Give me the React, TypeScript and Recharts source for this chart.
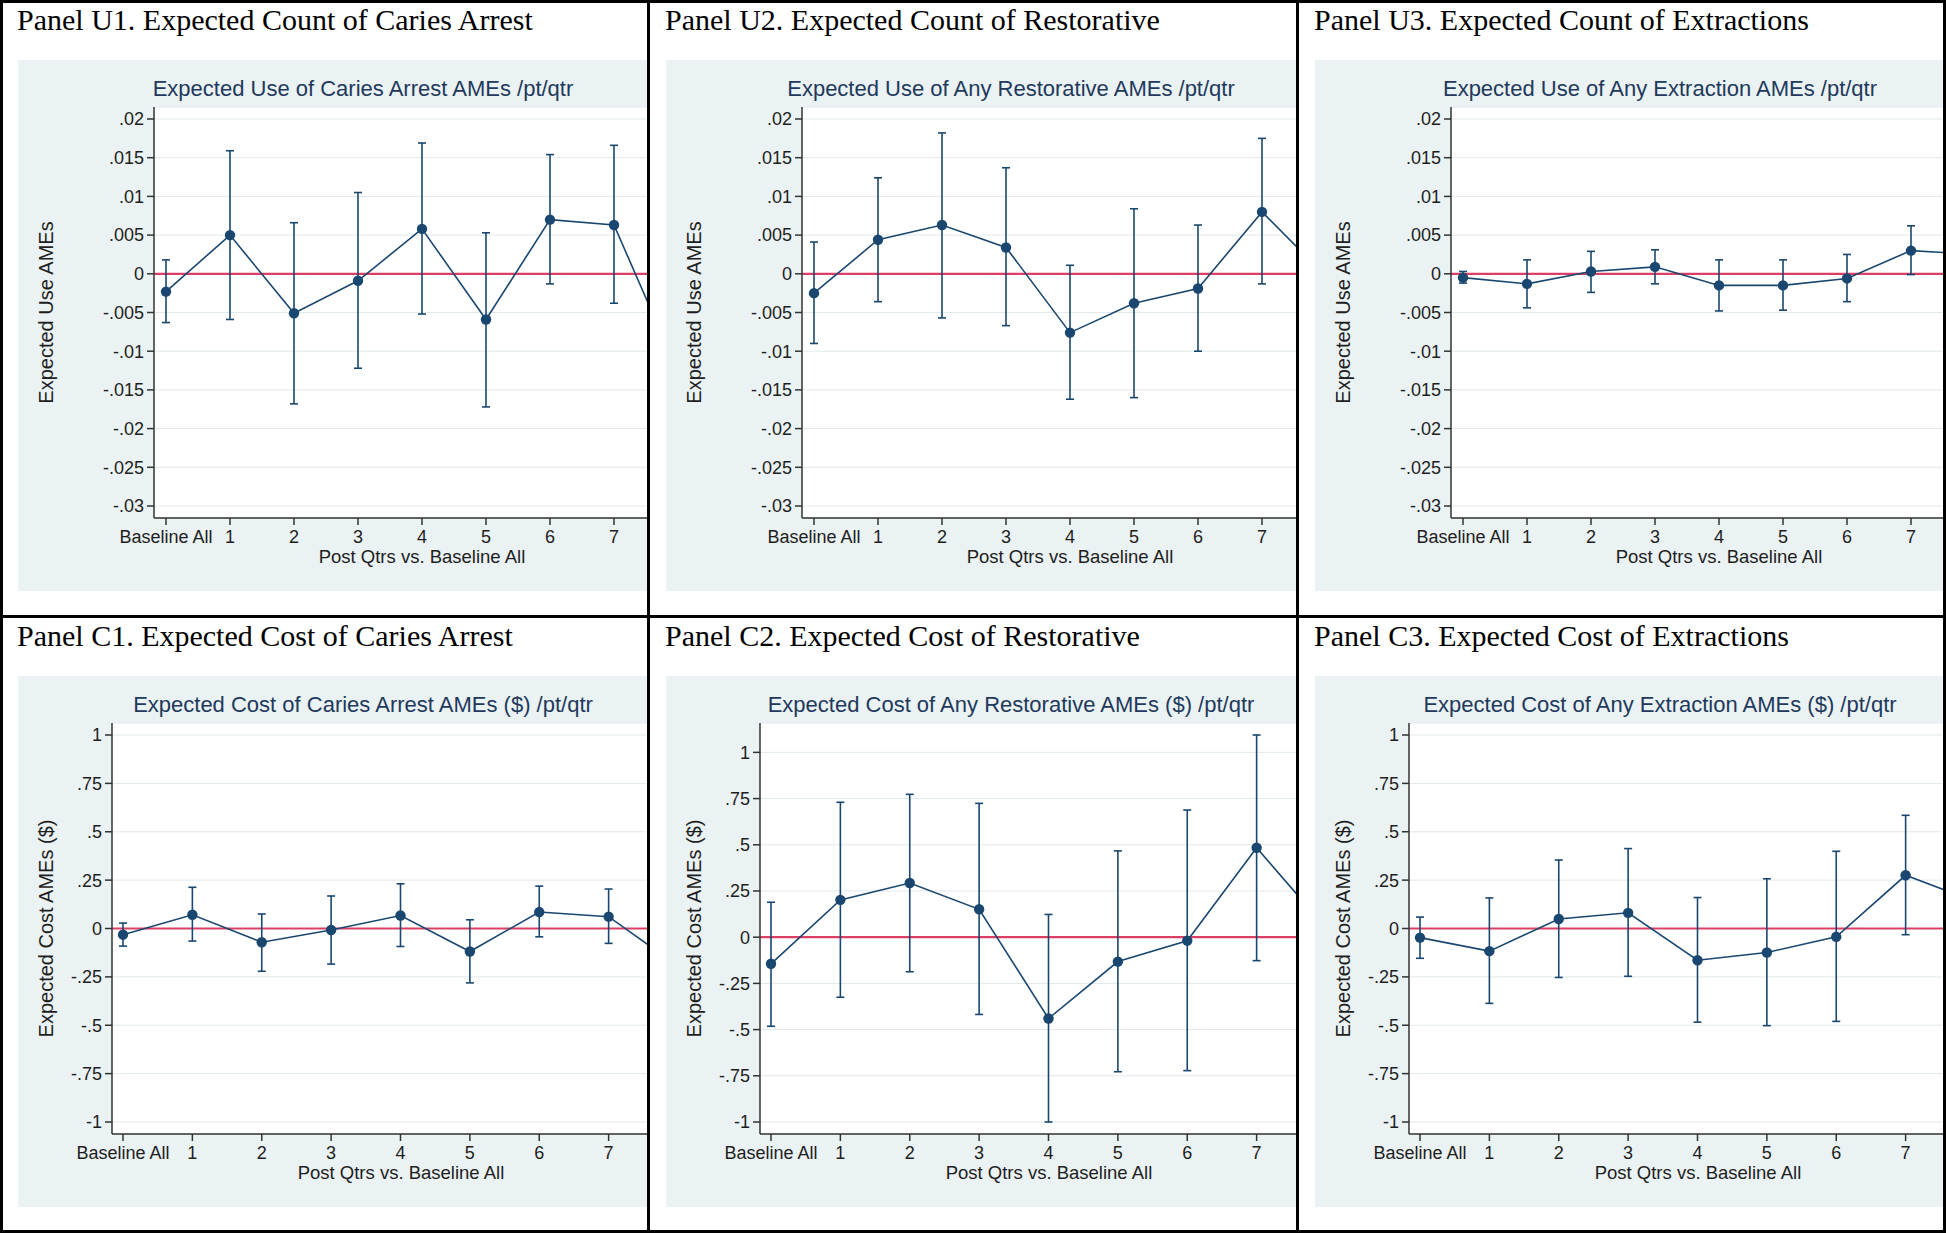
import { ComposedChart, Line, ErrorBar, XAxis, YAxis, CartesianGrid, ReferenceLine } from 'recharts';

// x categories: 0 = Baseline All, then post quarters 1..8 (8 sits past the cropped panel edge)
const X_POS = [0, 1, 2, 3, 4, 5, 6, 7, 8];
const X_TICKS = [0, 1, 2, 3, 4, 5, 6, 7];
const X_LABELS = ['Baseline All', '1', '2', '3', '4', '5', '6', '7'];

const USE_TICKS = [0.02, 0.015, 0.01, 0.005, 0, -0.005, -0.01, -0.015, -0.02, -0.025, -0.03];
const COST_TICKS = [1, 0.75, 0.5, 0.25, 0, -0.25, -0.5, -0.75, -1];

// expected use (count) AMEs
const U1_AME = [-0.0023, 0.005, -0.0051, -0.0009, 0.0058, -0.0059, 0.007, 0.0063, -0.0126];
const U1_LO = [-0.0063, -0.0059, -0.0168, -0.0122, -0.0052, -0.0172, -0.0013, -0.0038, null];
const U1_HI = [0.0018, 0.0159, 0.0066, 0.0105, 0.0169, 0.0053, 0.0154, 0.0166, null];

const U2_AME = [-0.0025, 0.0044, 0.0063, 0.0034, -0.0076, -0.0038, -0.0019, 0.008, -0.0003];
const U2_LO = [-0.009, -0.0036, -0.0057, -0.0067, -0.0162, -0.016, -0.01, -0.0013, null];
const U2_HI = [0.0041, 0.0124, 0.0182, 0.0137, 0.0011, 0.0084, 0.0063, 0.0175, null];

const U3_AME = [-0.0005, -0.0013, 0.0003, 0.0009, -0.0015, -0.0015, -0.0006, 0.003, 0.0025];
const U3_LO = [-0.0012, -0.0044, -0.0024, -0.0013, -0.0048, -0.0047, -0.0036, -0.0001, null];
const U3_HI = [0.0003, 0.0018, 0.0029, 0.0031, 0.0018, 0.0018, 0.0025, 0.0062, null];

// expected cost AMEs ($)
const C1_AME = [-0.032, 0.071, -0.071, -0.008, 0.067, -0.119, 0.085, 0.061, -0.195];
const C1_LO = [-0.091, -0.065, -0.221, -0.184, -0.093, -0.281, -0.043, -0.077, null];
const C1_HI = [0.028, 0.213, 0.075, 0.168, 0.231, 0.045, 0.219, 0.204, null];

const C2_AME = [-0.144, 0.202, 0.293, 0.151, -0.44, -0.132, -0.019, 0.484, 0.05];
const C2_LO = [-0.482, -0.325, -0.187, -0.418, -1.0, -0.728, -0.722, -0.127, null];
const C2_HI = [0.189, 0.73, 0.773, 0.724, 0.123, 0.467, 0.688, 1.094, null];

const C3_AME = [-0.047, -0.117, 0.049, 0.081, -0.164, -0.124, -0.043, 0.275, 0.14];
const C3_LO = [-0.154, -0.387, -0.253, -0.247, -0.484, -0.502, -0.48, -0.032, null];
const C3_HI = [0.059, 0.158, 0.354, 0.413, 0.16, 0.257, 0.399, 0.585, null];

const BG = '#eaf2f3';
const NAVY = '#1a476f';
const TITLE_NAVY = '#22395c';
const RED = '#dc3f65';
const GRID = '#e0e9ec';
const AXIS = '#333';
const SANS = '"Liberation Sans", Arial, Helvetica, sans-serif';
const SERIF = '"Liberation Serif", "Times New Roman", serif';

const GRAPH_W = 690;
const GRAPH_H = 531;
const PLOT_TOP = 47;
const PLOT_BOTTOM = 458;
const PLOT_RIGHT = 672;

const COL_LEFT = [0, 648, 1297];
const COL_WIDTH = [647, 648, 646];
const ROW_TOP = [0, 616];
const ROW_HEIGHT = [615, 614];

const fmtTick = (v: number) => (v === 0 ? '0' : String(v).replace(/^(-?)0\./, '$1.'));

const PANELS = [
  { title: 'Panel U1. Expected Count of Caries Arrest', sub: 'Expected Use of Caries Arrest AMEs /pt/qtr', yTitle: 'Expected Use AMEs', ame: U1_AME, lo: U1_LO, hi: U1_HI, ticks: USE_TICKS, domain: [-0.03, 0.02], plotLeft: 136, padLeft: 12 },
  { title: 'Panel U2. Expected Count of Restorative', sub: 'Expected Use of Any Restorative AMEs /pt/qtr', yTitle: 'Expected Use AMEs', ame: U2_AME, lo: U2_LO, hi: U2_HI, ticks: USE_TICKS, domain: [-0.03, 0.02], plotLeft: 136, padLeft: 12 },
  { title: 'Panel U3. Expected Count of Extractions', sub: 'Expected Use of Any Extraction AMEs /pt/qtr', yTitle: 'Expected Use AMEs', ame: U3_AME, lo: U3_LO, hi: U3_HI, ticks: USE_TICKS, domain: [-0.03, 0.02], plotLeft: 136, padLeft: 12 },
  { title: 'Panel C1. Expected Cost of Caries Arrest', sub: 'Expected Cost of Caries Arrest AMEs ($) /pt/qtr', yTitle: 'Expected Cost AMEs ($)', ame: C1_AME, lo: C1_LO, hi: C1_HI, ticks: COST_TICKS, domain: [-1, 1], plotLeft: 94, padLeft: 11 },
  { title: 'Panel C2. Expected Cost of Restorative', sub: 'Expected Cost of Any Restorative AMEs ($) /pt/qtr', yTitle: 'Expected Cost AMEs ($)', ame: C2_AME, lo: C2_LO, hi: C2_HI, ticks: COST_TICKS, domain: [-1, Math.max(...C2_HI.filter((v) => v != null) as number[])], plotLeft: 94, padLeft: 11 },
  { title: 'Panel C3. Expected Cost of Extractions', sub: 'Expected Cost of Any Extraction AMEs ($) /pt/qtr', yTitle: 'Expected Cost AMEs ($)', ame: C3_AME, lo: C3_LO, hi: C3_HI, ticks: COST_TICKS, domain: [-1, 1], plotLeft: 94, padLeft: 11 },
];

type Panel = (typeof PANELS)[number];

function Graph({ p }: { p: Panel }) {
  const data = X_POS.map((x, i) => {
    const lo = p.lo[i];
    const hi = p.hi[i];
    return {
      x,
      ame: p.ame[i],
      err: lo == null || hi == null ? [0, 0] : [p.ame[i] - lo, hi - p.ame[i]],
    };
  });
  const plotMidX = (p.plotLeft + PLOT_RIGHT) / 2;
  const plotMidY = (PLOT_TOP + PLOT_BOTTOM) / 2;

  return (
    <div style={{ position: 'absolute', left: 18, top: 60, width: GRAPH_W, height: GRAPH_H, background: BG }}>
      <div
        style={{
          position: 'absolute', left: 0, top: 18, width: GRAPH_W, textAlign: 'center',
          fontFamily: SANS, fontSize: 22, lineHeight: '22px', color: TITLE_NAVY, whiteSpace: 'nowrap',
        }}
      >
        {p.sub}
      </div>
      <div style={{ position: 'absolute', left: 0, top: 0 }}>
        <ComposedChart
          width={GRAPH_W}
          height={GRAPH_H}
          data={data}
          margin={{ top: PLOT_TOP, right: GRAPH_W - PLOT_RIGHT, bottom: 13, left: 0 }}
        >
          <CartesianGrid horizontal vertical={false} fill="#ffffff" stroke={GRID} strokeWidth={1} />
          <XAxis
            type="number"
            dataKey="x"
            domain={[0, 8]}
            ticks={X_TICKS}
            interval={0}
            tickFormatter={(v) => X_LABELS[v]}
            padding={{ left: p.padLeft, right: 12 }}
            height={60}
            tickSize={7}
            tickMargin={5}
            axisLine={{ stroke: AXIS, strokeWidth: 1.5 }}
            tickLine={{ stroke: AXIS, strokeWidth: 1.5 }}
            tick={{ fill: '#1e1e1e', fontSize: 18, fontFamily: SANS }}
          />
          <YAxis
            type="number"
            domain={p.domain}
            ticks={p.ticks}
            interval={0}
            allowDataOverflow
            width={p.plotLeft}
            tickSize={7}
            tickMargin={3}
            tickFormatter={fmtTick}
            padding={{ top: 12, bottom: 12 }}
            axisLine={{ stroke: AXIS, strokeWidth: 1.5 }}
            tickLine={{ stroke: AXIS, strokeWidth: 1.5 }}
            tick={{ fill: '#1e1e1e', fontSize: 18, fontFamily: SANS }}
          />
          <ReferenceLine y={0} stroke={RED} strokeWidth={2.2} />
          <Line
            dataKey="ame"
            stroke={NAVY}
            strokeWidth={1.6}
            dot={{ r: 5.2, fill: NAVY, stroke: NAVY, strokeWidth: 0 }}
            activeDot={false}
            isAnimationActive={false}
          >
            <ErrorBar dataKey="err" direction="y" width={4} stroke={NAVY} strokeWidth={1.6} />
          </Line>
        </ComposedChart>
      </div>
      <svg width={GRAPH_W} height={GRAPH_H} style={{ position: 'absolute', left: 0, top: 0, pointerEvents: 'none' }}>
        <text
          x={28}
          y={plotMidY}
          transform={`rotate(-90 28 ${plotMidY})`}
          textAnchor="middle"
          dominantBaseline="central"
          fontFamily={SANS}
          fontSize={20}
          fill="#1e1e1e"
        >
          {p.yTitle}
        </text>
        <text x={plotMidX} y={503} textAnchor="middle" fontFamily={SANS} fontSize={18.5} fill="#1e1e1e">
          Post Qtrs vs. Baseline All
        </text>
      </svg>
    </div>
  );
}

export default function App() {
  return (
    <div style={{ position: 'relative', width: 1946, height: 1233, background: '#fff', overflow: 'hidden' }}>
      <style>{'body{margin:0}'}</style>
      {PANELS.map((p, i) => {
        const col = i % 3;
        const row = Math.floor(i / 3);
        return (
          <div
            key={p.title}
            style={{
              position: 'absolute', left: COL_LEFT[col], top: ROW_TOP[row],
              width: COL_WIDTH[col], height: ROW_HEIGHT[row], overflow: 'hidden',
            }}
          >
            <div
              style={{
                position: 'absolute', left: 17, top: 5, fontFamily: SERIF, fontSize: 30,
                lineHeight: '30px', color: '#000', whiteSpace: 'nowrap',
              }}
            >
              {p.title}
            </div>
            <Graph p={p} />
          </div>
        );
      })}
      {/* frame and cell separators */}
      <div style={{ position: 'absolute', left: 0, top: 0, width: 1946, height: 3, background: '#000' }} />
      <div style={{ position: 'absolute', left: 0, top: 1230, width: 1946, height: 3, background: '#000' }} />
      <div style={{ position: 'absolute', left: 0, top: 0, width: 3, height: 1233, background: '#000' }} />
      <div style={{ position: 'absolute', left: 1943, top: 0, width: 3, height: 1233, background: '#000' }} />
      <div style={{ position: 'absolute', left: 647, top: 0, width: 3, height: 1233, background: '#000' }} />
      <div style={{ position: 'absolute', left: 1296, top: 0, width: 3, height: 1233, background: '#000' }} />
      <div style={{ position: 'absolute', left: 0, top: 615, width: 1946, height: 2.5, background: '#000' }} />
    </div>
  );
}
